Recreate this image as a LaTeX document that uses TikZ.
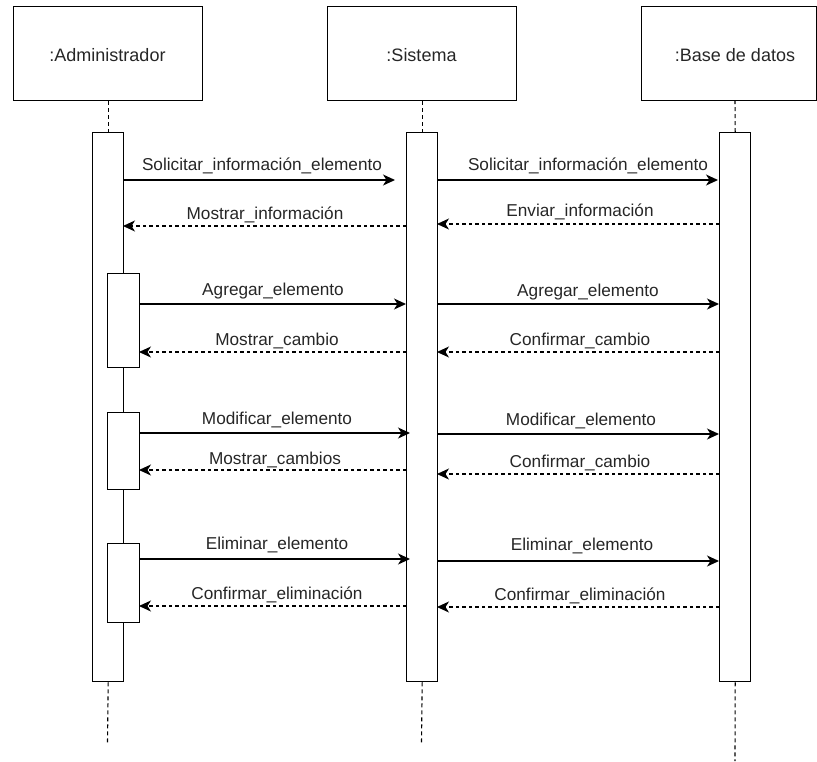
\documentclass[tikz,border=0pt]{standalone}
\usepackage{fontspec}
\setmainfont{Liberation Sans}
\usetikzlibrary{arrows.meta}

\begin{document}
\begin{tikzpicture}[x=1pt,y=-1pt,
  line width=1.4pt,
  head/.style={draw, rectangle, anchor=north west, inner sep=0pt},
  headtext/.style={anchor=base, font=\fontsize{18}{20}\selectfont, text=black!85},
  bar/.style={draw, fill=white, rectangle, anchor=north west, inner sep=0pt, minimum width=31pt},
  subbar/.style={draw, fill=white, rectangle, anchor=north west, inner sep=0pt, minimum width=32pt},
  life/.style={line width=1.1pt, dash pattern=on 4pt off 3pt},
  msg/.style={-{Stealth[length=12pt,width=11pt,inset=3.5pt]}},
  reply/.style={msg, line width=1.2pt, dash pattern=on 3.5pt off 3pt},
  lbl/.style={anchor=base, font=\fontsize{17.2}{19}\selectfont, text=black!85}]

\useasboundingbox (0,0) rectangle (817,761);

% participant heads
\node[head, minimum width=189pt, minimum height=94pt] (hadm) at (13,6) {};
\node[head, minimum width=189pt, minimum height=94pt] (hsis) at (327,6) {};
\node[head, minimum width=175pt, minimum height=94pt] (hbd)  at (641,6) {};
\node[headtext] (tadm) at (107.5,61) {:Administrador};
\node[headtext] (tsis) at (421.5,61) {:Sistema};
\node[headtext] (tbd)  at (735,61.5) {:Base de datos};

% lifeline ends
\coordinate (eadm) at (107.5,743);
\coordinate (esis) at (421.5,743);
\coordinate (ebd)  at (735,761);

% activation bars
\node[bar, minimum height=549pt] (badm) at (92,132) {};
\node[bar, minimum height=549pt] (bsis) at (406,132) {};
\node[bar, minimum height=549pt] (bbd)  at (719,132) {};

% dashed lifelines
\draw[life] (hadm.south -| badm.north) -- (badm.north);
\draw[life] (hsis.south -| bsis.north) -- (bsis.north);
\draw[life] (735,100) -- (bbd.north);
\draw[life] (badm.south) -- (eadm);
\draw[life] (bsis.south) -- (esis);
\draw[life] (bbd.south) -- (ebd);

% nested activations of the administrator
\node[subbar, minimum height=94pt] (sa1) at (107,273) {};
\node[subbar, minimum height=77pt] (sa2) at (107,412) {};
\node[subbar, minimum height=79pt] (sa3) at (107,543) {};

% message end points
\coordinate (m1a) at (123,180);  \coordinate (m1b) at (395,180);
\coordinate (m2a) at (437,180);  \coordinate (m2b) at (718,180);
\coordinate (m3a) at (406,226);  \coordinate (m3b) at (123,226);
\coordinate (m4a) at (719,224);  \coordinate (m4b) at (437,224);
\coordinate (m5a) at (139,304);  \coordinate (m5b) at (406,304);
\coordinate (m6a) at (437,304);  \coordinate (m6b) at (719,304);
\coordinate (m7a) at (406,352);  \coordinate (m7b) at (139,352);
\coordinate (m8a) at (719,352);  \coordinate (m8b) at (437,352);
\coordinate (m9a) at (139,433);  \coordinate (m9b) at (410,433);
\coordinate (m10a) at (437,434); \coordinate (m10b) at (719,434);
\coordinate (m11a) at (406,470); \coordinate (m11b) at (139,470);
\coordinate (m12a) at (719,474); \coordinate (m12b) at (437,474);
\coordinate (m13a) at (139,559); \coordinate (m13b) at (410,559);
\coordinate (m14a) at (437,561); \coordinate (m14b) at (719,561);
\coordinate (m15a) at (406,606); \coordinate (m15b) at (139,606);
\coordinate (m16a) at (719,607); \coordinate (m16b) at (437,607);

% messages
\draw[msg]   (m1a) -- (m1b);
\draw[msg]   (m2a) -- (m2b);
\draw[reply] (m3a) -- (m3b);
\draw[reply] (m4a) -- (m4b);
\draw[msg]   (m5a) -- (m5b);
\draw[msg]   (m6a) -- (m6b);
\draw[reply] (m7a) -- (m7b);
\draw[reply] (m8a) -- (m8b);
\draw[msg]   (m9a) -- (m9b);
\draw[msg]   (m10a) -- (m10b);
\draw[reply] (m11a) -- (m11b);
\draw[reply] (m12a) -- (m12b);
\draw[msg]   (m13a) -- (m13b);
\draw[msg]   (m14a) -- (m14b);
\draw[reply] (m15a) -- (m15b);
\draw[reply] (m16a) -- (m16b);

% message labels
\node[lbl] (l1)  at (262,170)   {Solicitar\_información\_elemento};
\node[lbl] (l2)  at (588,170)   {Solicitar\_información\_elemento};
\node[lbl] (l3)  at (265,219.5) {Mostrar\_información};
\node[lbl] (l4)  at (580,216.5) {Enviar\_información};
\node[lbl] (l5)  at (273,295.5) {Agregar\_elemento};
\node[lbl] (l6)  at (588,296.5) {Agregar\_elemento};
\node[lbl] (l7)  at (277,345.5) {Mostrar\_cambio};
\node[lbl] (l8)  at (580,345.5) {Confirmar\_cambio};
\node[lbl] (l9)  at (277,424.5) {Modificar\_elemento};
\node[lbl] (l10) at (581,425.5) {Modificar\_elemento};
\node[lbl] (l11) at (275,464.5) {Mostrar\_cambios};
\node[lbl] (l12) at (580,467.5) {Confirmar\_cambio};
\node[lbl] (l13) at (277,549.5) {Eliminar\_elemento};
\node[lbl] (l14) at (582,550.5) {Eliminar\_elemento};
\node[lbl] (l15) at (277,599.5) {Confirmar\_eliminación};
\node[lbl] (l16) at (580,600.5) {Confirmar\_eliminación};
\end{tikzpicture}
\end{document}
